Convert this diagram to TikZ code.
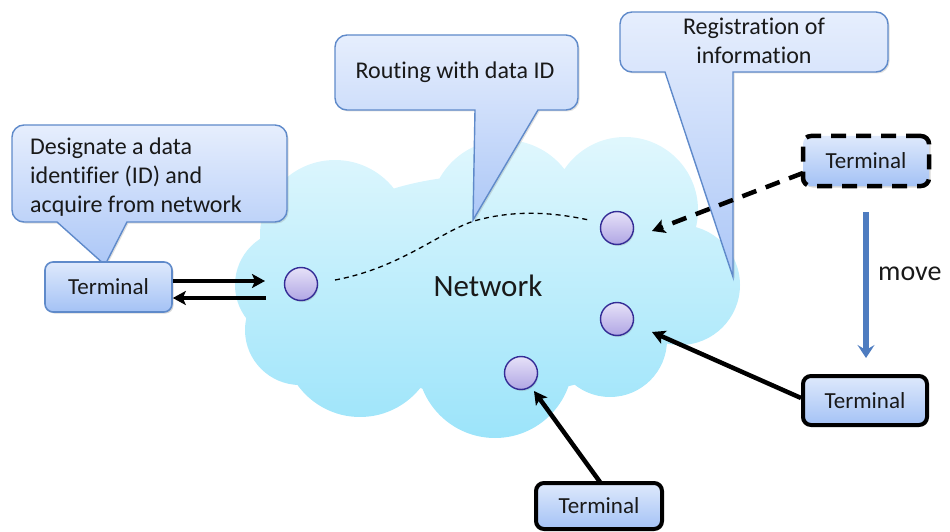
\documentclass[tikz,border=0pt]{standalone}
\usepackage{fontspec}
\setmainfont{Carlito}[Ligatures=NoCommon]
\usetikzlibrary{arrows.meta,shadows,calc}
\definecolor{cloudtop}{RGB}{224,247,253}
\definecolor{cloudbot}{RGB}{156,228,250}
\definecolor{calltop}{RGB}{230,238,253}
\definecolor{callbot}{RGB}{172,199,247}
\definecolor{callline}{RGB}{95,138,202}
\definecolor{termtop}{RGB}{222,233,252}
\definecolor{termbot}{RGB}{164,194,245}
\definecolor{bubtop}{RGB}{230,225,248}
\definecolor{bubbot}{RGB}{176,166,228}
\definecolor{bubline}{RGB}{52,44,150}
\definecolor{txt}{RGB}{25,25,25}
\definecolor{moveblue}{RGB}{78,124,192}
\tikzset{
  callout/.style={top color=calltop, bottom color=callbot, draw=callline, line width=1.4pt,
    drop shadow={shadow xshift=1.5pt, shadow yshift=-1.5pt, opacity=0.25}},
  termbox/.style={rectangle, rounded corners=8pt, top color=termtop, bottom color=termbot,
    text=txt, font=\fontsize{23}{28}\selectfont, inner sep=0pt,
    drop shadow={shadow xshift=1.5pt, shadow yshift=-1.5pt, opacity=0.3}},
  termblue/.style={termbox, draw=callline, line width=1.6pt},
  termblack/.style={termbox, draw=black, line width=4pt},
  termdash/.style={termbox, draw=black, line width=4.5pt, dash pattern=on 15pt off 10pt},
  bubble/.style={circle, minimum size=33pt, inner sep=0pt, top color=bubtop, bottom color=bubbot,
    draw=bubline, line width=1.4pt,
    drop shadow={shadow xshift=1pt, shadow yshift=-1.5pt, opacity=0.25}},
  blk/.style={draw=black, line width=4.5pt, -{Stealth[length=13pt,width=14pt,inset=3pt]}},
  blkdash/.style={blk, dash pattern=on 15pt off 10pt},
  routeline/.style={draw=black, line width=1.3pt, dash pattern=on 5pt off 4pt},
  calltext/.style={text=txt, font=\fontsize{24}{29}\selectfont, inner sep=0pt},
}
\begin{document}
\begin{tikzpicture}[x=1pt,y=-1pt]
\useasboundingbox (0,0) rectangle (950,532);

% cloud
\shade[top color=cloudtop, bottom color=cloudbot]
  (335,235) circle (75) (505,215) circle (75) (625,210) circle (73)
  (680,285) circle (60) (610,340) circle (57) (495,360) circle (78)
  (360,340) circle (77) (290,285) circle (55) (300,330) circle (55)
  (490,285) ellipse (200 and 110);

% callouts
\shade[callout] (24,125) -- (275,125) arc (270:360:12) -- (287,210) arc (0:90:12)
  -- (127,222) -- (105,265) -- (57,222) -- (24,222) arc (90:180:12) -- (12,137) arc (180:270:12) -- cycle;
\shade[callout] (347,35) -- (566,35) arc (270:360:12) -- (578,98) arc (0:90:12)
  -- (538,110) -- (473,220) -- (475,110) -- (347,110) arc (90:180:12) -- (335,47) arc (180:270:12) -- cycle;
\shade[callout] (632,12) -- (876,12) arc (270:360:12) -- (888,60) arc (0:90:12)
  -- (733,72) -- (733,277) -- (665,72) -- (632,72) arc (90:180:12) -- (620,24) arc (180:270:12) -- cycle;

\node[calltext, anchor=west, align=left] (c1t) at (30,177) {Designate a data\\identifier (ID) and\\acquire from network};
\node[calltext] (c2t) at (455,72) {Routing with data ID};
\node[calltext, align=center] (c3t) at (754,41) {Registration of\\information};

% network label
\node[text=txt, font=\fontsize{31}{36}\selectfont, inner sep=0pt] (net) at (488,286) {Network};

% nodes in the network
\node[bubble] (n1) at (301,284) {};
\node[bubble] (n2) at (617,228) {};
\node[bubble] (n3) at (617,319) {};
\node[bubble] (n4) at (521,373) {};

% route
\coordinate (r0) at (335,280);
\coordinate (r1) at (474,221);
\coordinate (r2) at (589,220);
\draw[routeline] (r0) .. controls (400,268) and (440,232) .. (r1) .. controls (520,208) and (560,214) .. (r2);

% terminals
\node[termblue, minimum width=127pt, minimum height=50pt] (lt) at (108.5,287) {Terminal};
\node[termdash, minimum width=126pt, minimum height=50pt] (dt) at (866,161) {Terminal};
\node[termblack, minimum width=124pt, minimum height=49pt] (rt) at (865,400.5) {Terminal};
\node[termblack, minimum width=126pt, minimum height=46pt] (bt) at (599,506) {Terminal};

% arrows
\coordinate (a1e) at (265,281);
\coordinate (a2s) at (266,298);
\draw[blk] (lt.east |- a1e) -- (a1e);
\draw[blk] (a2s) -- (lt.east |- a2s);
\coordinate (a3s) at (803,173);
\coordinate (a3e) at (652,231);
\draw[blkdash] (a3s) -- (a3e);
\coordinate (a4e) at (652,332);
\draw[blk] (rt.west |- 0,398) -- (a4e);
\coordinate (a5s) at (600,482);
\coordinate (a5e) at (534,391);
\draw[blk] (a5s) -- (a5e);

% move
\coordinate (m0) at (866,212);
\coordinate (m1) at (866,358);
\draw[draw=moveblue, line width=5.5pt, -{Stealth[length=13pt,width=17pt,inset=5pt]}] (m0) -- (m1);
\node[text=txt, font=\fontsize{28}{32}\selectfont, inner sep=0pt, anchor=west] (mv) at (878,274) {move};
\end{tikzpicture}
\end{document}
